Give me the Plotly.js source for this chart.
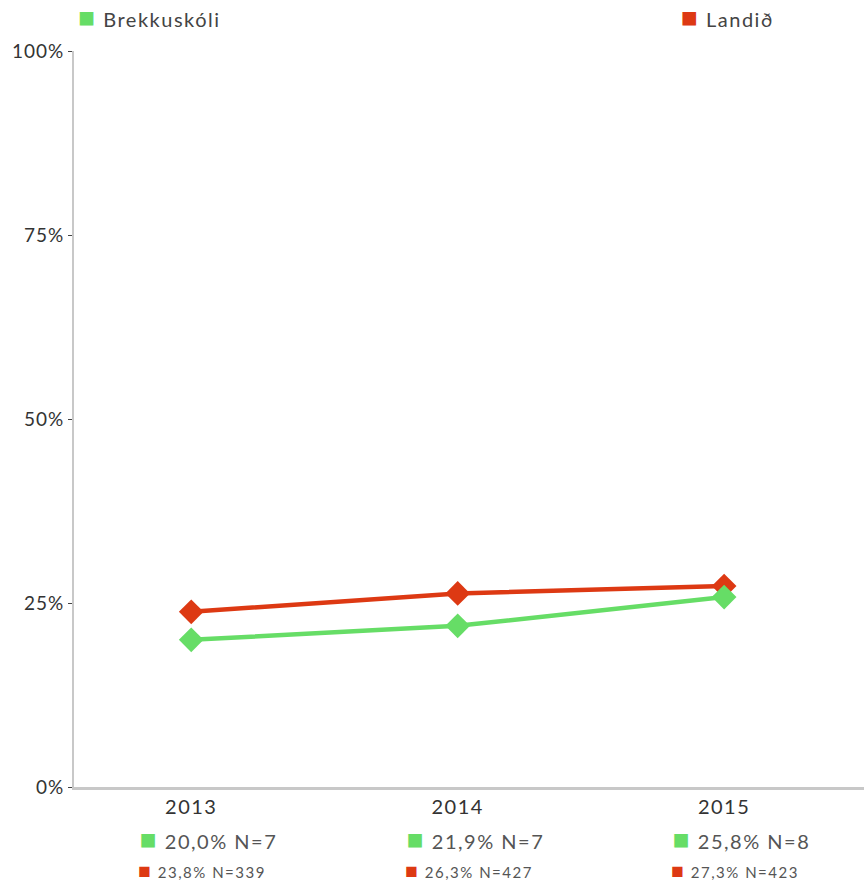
<!DOCTYPE html>
<html>
<head>
<meta charset="utf-8">
<script src="https://cdn.plot.ly/plotly-3.0.1.min.js"></script>
<style>
html,body{margin:0;padding:0;background:#fff;}
#chart{width:864px;height:885px;}
#chart .xtick text{letter-spacing:1.5px;}
#chart .ytick text{letter-spacing:1px;}
#chart .annotation-text{letter-spacing:1.5px;}
</style>
</head>
<body>
<div id="chart"></div>
<script>
const years = ['2013', '2014', '2015'];
const seriesNames = ['Brekkuskóli', 'Landið'];
const schoolValues = [20.0, 21.9, 25.8];
const schoolN = [7, 7, 8];
const nationValues = [23.8, 26.3, 27.3];
const nationN = [339, 427, 423];
const yTickVals = [0, 25, 50, 75, 100];
const yTickText = ['0%', '25%', '50%', '75%', '100%'];

const green = '#66DD66';
const red = '#DD3913';
const font = 'Lato, "Open Sans", sans-serif';

function fmt(v) { return v.toFixed(1).replace('.', ',') + '%'; }
function sq(color, px) { return '<span style="color:' + color + ';font-size:' + px + 'px">■</span>'; }

const traces = [
  {x: years, y: nationValues, name: seriesNames[1], type: 'scatter', mode: 'lines+markers',
   line: {color: red, width: 4.5}, marker: {symbol: 'diamond', size: 19, color: red}},
  {x: years, y: schoolValues, name: seriesNames[0], type: 'scatter', mode: 'lines+markers',
   line: {color: green, width: 4.5}, marker: {symbol: 'diamond', size: 19, color: green}}
];

const annotations = [];
years.forEach((yr, i) => {
  annotations.push({x: i, y: 0, xref: 'x', yref: 'paper', xanchor: 'left', yanchor: 'middle',
    xshift: -45, yshift: -51, showarrow: false,
    text: sq(green, 28) + ' ' + fmt(schoolValues[i]) + ' N=' + schoolN[i],
    font: {family: font, size: 20, color: '#555'}});
  annotations.push({x: i, y: 0, xref: 'x', yref: 'paper', xanchor: 'left', yanchor: 'middle',
    xshift: -45, yshift: -82, showarrow: false,
    text: sq(red, 21) + ' ' + fmt(nationValues[i]) + ' N=' + nationN[i],
    font: {family: font, size: 15, color: '#555'}});
});
annotations.push({xref: 'paper', yref: 'paper', x: 0, y: 1, xanchor: 'left', yanchor: 'middle',
  showarrow: false, text: sq(green, 28) + ' ' + seriesNames[0],
  font: {family: font, size: 20, color: '#444'}, yshift: 35, xshift: 12});
annotations.push({xref: 'paper', yref: 'paper', x: 0, y: 1, xanchor: 'left', yanchor: 'middle',
  showarrow: false, text: sq(red, 28) + ' ' + seriesNames[1],
  font: {family: font, size: 20, color: '#444'}, yshift: 35, xshift: 611});

const layout = {
  width: 864, height: 885,
  margin: {l: 74, r: 0, t: 51, b: 98},
  paper_bgcolor: '#fff', plot_bgcolor: '#fff',
  showlegend: false,
  font: {family: font, color: '#333'},
  xaxis: {type: 'category', range: [-0.44, 2.525], showgrid: false, zeroline: false,
    showline: true, linecolor: '#c8c8c8', linewidth: 3, ticks: '',
    tickfont: {family: font, size: 20, color: '#333'}, ticklabelstandoff: 0},
  yaxis: {range: [0, 100], tickvals: yTickVals, ticktext: yTickText, showgrid: false, zeroline: false,
    showline: true, linecolor: '#c8c8c8', linewidth: 2, ticks: 'outside', ticklen: 4, tickcolor: '#444',
    tickfont: {family: font, size: 19, color: '#333'}},
  annotations: annotations
};

Plotly.newPlot('chart', traces, layout, {displayModeBar: false, staticPlot: true});
</script>
</body>
</html>
